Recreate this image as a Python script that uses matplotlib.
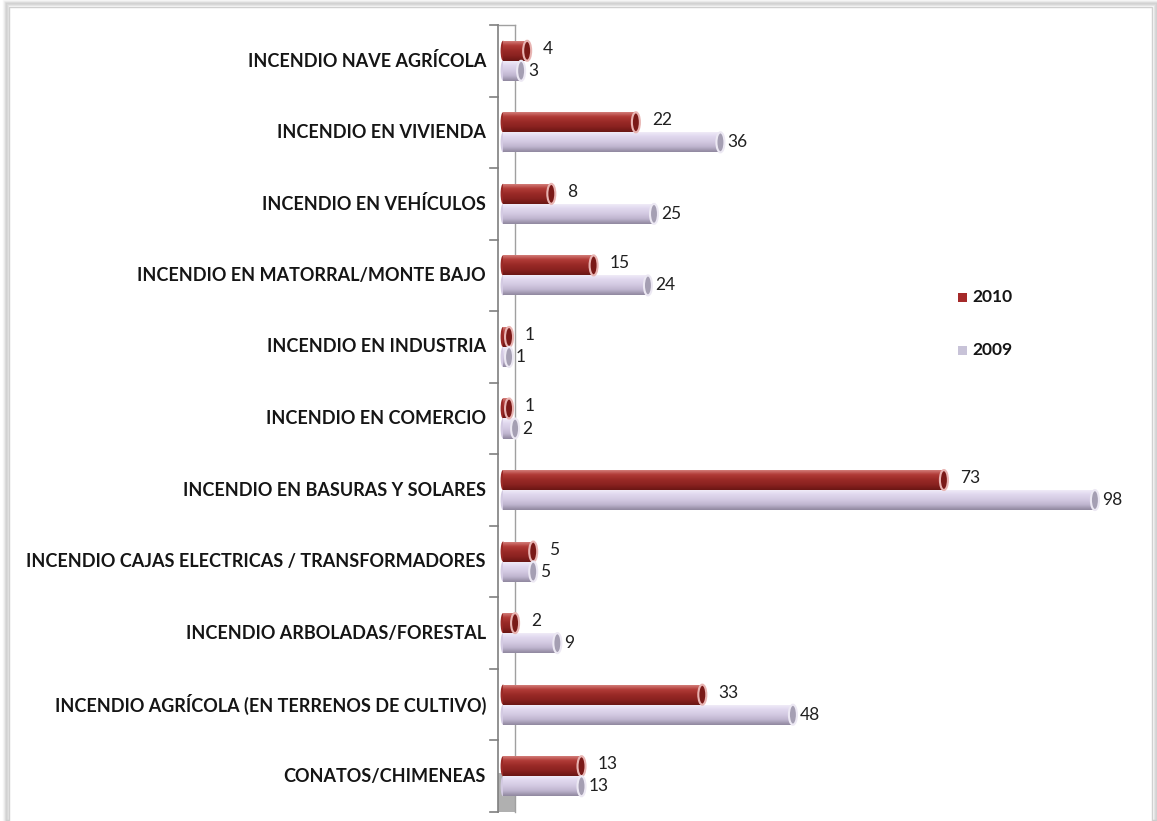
import numpy as np
import matplotlib
matplotlib.use("Agg")
from matplotlib import pyplot as plt
from matplotlib.patches import Ellipse, Rectangle

# categories from bottom to top
categories = [
    "CONATOS/CHIMENEAS",
    "INCENDIO AGRÍCOLA (EN TERRENOS DE CULTIVO)",
    "INCENDIO ARBOLADAS/FORESTAL",
    "INCENDIO CAJAS ELECTRICAS / TRANSFORMADORES",
    "INCENDIO EN BASURAS Y SOLARES",
    "INCENDIO EN COMERCIO",
    "INCENDIO EN INDUSTRIA",
    "INCENDIO EN MATORRAL/MONTE BAJO",
    "INCENDIO EN VEHÍCULOS",
    "INCENDIO EN VIVIENDA",
    "INCENDIO NAVE AGRÍCOLA",
]
values_2010 = [13, 33, 2, 5, 73, 1, 1, 15, 8, 22, 4]
values_2009 = [13, 48, 9, 5, 98, 2, 1, 24, 25, 36, 3]
series_names = ["2010", "2009"]

W, H = 1157, 821
fig = plt.figure(figsize=(W / 100, H / 100), dpi=100)
fig.patch.set_facecolor("white")

# frame with a soft shadow
for i, a in enumerate([0.05, 0.08, 0.12, 0.18]):
    fig.patches.append(Rectangle(((8 - 4 + i) / W, 0), (1146 + 8 - 2 * i) / W,
                                 (H - 5 + 4 - i) / H, transform=fig.transFigure,
                                 facecolor="none", edgecolor=(0.5, 0.5, 0.5, a),
                                 linewidth=2.5, zorder=-2))
fig.patches.append(Rectangle((9 / W, -0.01), 1143 / W, (H - 7) / H + 0.01,
                             transform=fig.transFigure, facecolor="white",
                             edgecolor="#d0d0d0", linewidth=1, zorder=-1))

px = 6.04  # pixels per unit
x0 = 503
ax_left, ax_right = 498, 1150
ax_top, ax_bot = 25, 812
ax = fig.add_axes([ax_left / W, (H - ax_bot) / H, (ax_right - ax_left) / W,
                   (ax_bot - ax_top) / H])
ax.set_xlim((ax_left - x0) / px, (ax_right - x0) / px)
ax.set_ylim(-0.5, len(categories) - 0.5)
ax.patch.set_alpha(0)
for s in ax.spines.values():
    s.set_visible(False)
ax.set_xticks([])
ax.set_yticks([])

# 3D-ish axis walls
xl = ax.get_xlim()[0]
xb = (515 - x0) / px
ax.add_patch(Rectangle((xl, -0.5), xb - xl, 0.55, facecolor="#b0b0b0",
                       edgecolor="none", zorder=0))
ax.plot([xl, xl], [-0.5, 10.5], color="#7f7f7f", lw=1.2, zorder=1, clip_on=False)
ax.plot([xb, xb], [-0.5, 10.5], color="#a0a0a0", lw=1.0, zorder=1, clip_on=False)
ax.plot([xl, xb], [10.5, 10.5], color="#a0a0a0", lw=1.0, zorder=1, clip_on=False)
tick_len = 8 / px
for b in np.arange(-0.5, 11, 1.0):
    ax.plot([xl - tick_len, xl], [b, b], color="#7f7f7f", lw=1.2,
            clip_on=False, zorder=1)

bar_h = 0.28
cap_w = 8 / px

red_grad = ["#d98a87", "#b23c38", "#9a2a27", "#8a2220", "#6a1614"]
lav_grad = ["#f3effa", "#e0d8ee", "#d3cae2", "#bfb5cf", "#8f879e"]


def gradient_cmap(cols):
    return matplotlib.colors.LinearSegmentedColormap.from_list("g", cols)


def draw_cylinder(y0, val, cols, cap_face, cap_edge):
    if val <= 0:
        return
    grad = np.linspace(0, 1, 64).reshape(-1, 1)
    im = ax.imshow(grad, cmap=gradient_cmap(cols), aspect="auto",
                   extent=(0, val, y0, y0 + bar_h), origin="upper", zorder=3,
                   interpolation="bicubic")
    clip = Rectangle((0, y0), val, bar_h, transform=ax.transData,
                     facecolor="none", edgecolor="none")
    ax.add_patch(clip)
    im.set_clip_path(clip)
    # rounded start
    ax.add_patch(Ellipse((0, y0 + bar_h / 2), cap_w * 0.6, bar_h,
                         facecolor=cols[2], edgecolor="none", zorder=2))
    # end cap
    ax.add_patch(Ellipse((val, y0 + bar_h / 2), cap_w, bar_h,
                         facecolor=cap_face, edgecolor=cap_edge, lw=1.5,
                         zorder=4))


yc = np.arange(len(categories))
for i in range(len(categories)):
    draw_cylinder(yc[i], values_2010[i], red_grad, "#7a1a18", "#e8b4b2")
    draw_cylinder(yc[i] - bar_h, values_2009[i], lav_grad, "#a59fb3", "#ece8f3")
    ax.text(values_2010[i] + 16 / px, yc[i] + bar_h * 0.6, str(values_2010[i]),
            fontsize=12.5, family="Lato", color="#202020", va="center",
            ha="left", zorder=5)
    ax.text(values_2009[i] + 7 / px, yc[i] - bar_h * 0.5, str(values_2009[i]),
            fontsize=12.5, family="Lato", color="#202020", va="center",
            ha="left", zorder=5)
    ax.text(-(x0 - 486) / px, yc[i], categories[i],
            fontsize=13, family="Lato", fontweight="bold", color="#151515",
            ha="right", va="center", zorder=5)

# legend
leg_cols = ["#a52a2a", "#c8c3d8"]
leg_y = [297, 350]
for name, c, y in zip(series_names, leg_cols, leg_y):
    fig.patches.append(Rectangle((958 / W, (H - y - 5) / H), 9 / W, 9 / H,
                                 transform=fig.transFigure, facecolor=c,
                                 edgecolor="none", zorder=5))
    fig.text(972 / W, (H - y) / H, name, fontsize=12.5, family="Lato",
             fontweight="bold", color="#151515", va="center", ha="left")

fig.savefig("out.png", dpi=100)
